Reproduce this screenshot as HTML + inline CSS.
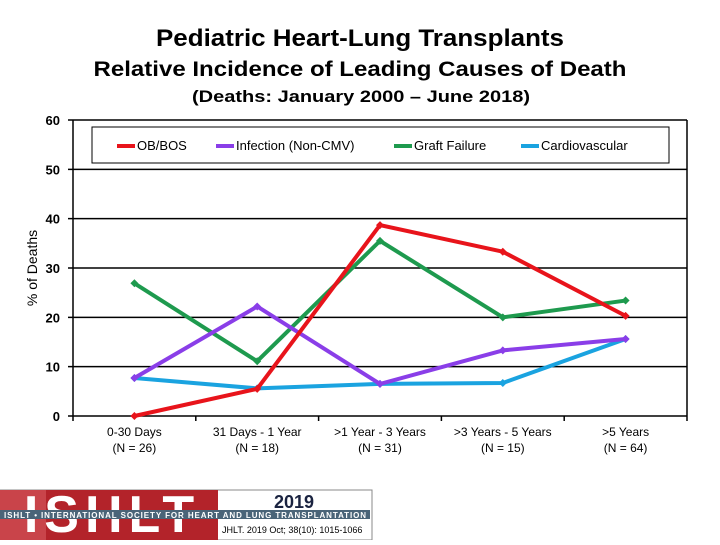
<!DOCTYPE html>
<html><head><meta charset="utf-8"><style>
body{margin:0;background:#fff;width:720px;height:540px;overflow:hidden;font-family:"Liberation Sans",Arial,sans-serif}
</style></head><body>
<svg width="720" height="540" xmlns="http://www.w3.org/2000/svg">
<text x="360" y="46" text-anchor="middle" font-size="24" font-weight="bold" textLength="408" lengthAdjust="spacingAndGlyphs">Pediatric Heart-Lung Transplants</text>
<text x="360" y="76" text-anchor="middle" font-size="21" font-weight="bold" textLength="533" lengthAdjust="spacingAndGlyphs">Relative Incidence of Leading Causes of Death</text>
<text x="361" y="102" text-anchor="middle" font-size="17" font-weight="bold" textLength="338" lengthAdjust="spacingAndGlyphs">(Deaths: January 2000 – June 2018)</text>
<g id="grid"></g>
<g id="axes"></g>
<g id="series"></g>
<rect x="92" y="127" width="577" height="36" fill="#fff" stroke="#000" stroke-width="1"/>
<g id="legend"></g>
<text transform="translate(37,268) rotate(-90)" text-anchor="middle" font-size="14">% of Deaths</text>
<g>
<rect x="0" y="490" width="372" height="50" fill="#fff" stroke="#888"/>
<rect x="0" y="490" width="218" height="50" fill="#b3232a"/>
<rect x="0" y="490" width="46" height="50" fill="#c9444a"/>
<text x="112" y="532" text-anchor="middle" font-size="52" font-weight="bold" fill="#fff" letter-spacing="6">ISHLT</text>
<rect x="0" y="510" width="370" height="9" fill="#4a6478"/>
<text x="4" y="518" font-size="8" font-weight="bold" fill="#fff" textLength="362">ISHLT • INTERNATIONAL SOCIETY FOR HEART AND LUNG TRANSPLANTATION</text>
<text x="294" y="508" text-anchor="middle" font-size="18" font-weight="bold" fill="#1a2340">2019</text>
<text x="222" y="533" font-size="9" fill="#000">JHLT. 2019 Oct; 38(10): 1015-1066</text>
</g>
</svg>
<script>
const categories=["0-30 Days","31 Days - 1 Year",">1 Year - 3 Years",">3 Years - 5 Years",">5 Years"];
const nLabels=["(N = 26)","(N = 18)","(N = 31)","(N = 15)","(N = 64)"];
const obBos=[0,5.5,38.7,33.3,20.3];
const infection=[7.7,22.2,6.5,13.3,15.6];
const graftFailure=[26.9,11.1,35.5,20.0,23.4];
const cardiovascular=[7.7,5.6,6.5,6.7,15.6];
const yTicks=[0,10,20,30,40,50,60];
const seriesNames=["OB/BOS","Infection (Non-CMV)","Graft Failure","Cardiovascular"];
const NS="http://www.w3.org/2000/svg";
const L=73,R=687,T=120,B=416;
const yS=v=>B-(B-T)*v/60;
const bw=(R-L)/categories.length;
const xS=i=>L+bw*(i+0.5);
function mk(tag,attrs,parent){const e=document.createElementNS(NS,tag);for(const k in attrs)e.setAttribute(k,attrs[k]);parent.appendChild(e);return e;}
const grid=document.getElementById('grid'),axes=document.getElementById('axes'),ser=document.getElementById('series'),leg=document.getElementById('legend');
yTicks.forEach(v=>{
 const ln=mk('line',{x1:L-5,x2:R,y1:yS(v),y2:yS(v),stroke:'#000','stroke-width':1.5},grid);
 
 
 const t=mk('text',{x:L-13,y:yS(v)+5,'text-anchor':'end','font-size':13,'font-weight':'bold'},axes);
 t.textContent=v;
 
 
});
let a=mk('line',{x1:L,x2:L,y1:T,y2:B,stroke:'#000','stroke-width':1.5},axes);


a=mk('line',{x1:R,x2:R,y1:T,y2:B,stroke:'#000','stroke-width':1.5},axes);


for(let i=0;i<=categories.length;i++){
 const tk=mk('line',{x1:L+bw*i,x2:L+bw*i,y1:B,y2:B+5,stroke:'#000','stroke-width':1.5},axes);
 
 
}
categories.forEach((c,i)=>{
 const t=mk('text',{x:xS(i),y:436,'text-anchor':'middle','font-size':12},axes);t.textContent=c;
 
 
 const t2=mk('text',{x:xS(i),y:452,'text-anchor':'middle','font-size':12},axes);t2.textContent=nLabels[i];
 
 
});
const data=[obBos,infection,graftFailure,cardiovascular];
const colors=["#e8141b","#8a3ee8","#1e9a4e","#1aa3e0"];
const keys=["ob-bos","infection","graft-failure","cardiovascular"];
[2,3,1,0].forEach(s=>{
 const pts=data[s].map((v,i)=>xS(i)+','+yS(v)).join(' ');
 const pl=mk('polyline',{points:pts,fill:'none',stroke:colors[s],'stroke-width':4,'stroke-linejoin':'round'},ser);
 
 
 data[s].forEach((v,i)=>{
  const x=xS(i),y=yS(v);
  const m=mk('polygon',{points:`${x},${y-4} ${x+4},${y} ${x},${y+4} ${x-4},${y}`,fill:colors[s]},ser);
  
  
 });
});
const lx=[117,216,394,521];
seriesNames.forEach((n,s)=>{
 const g=mk('g',{},leg);
 
 
 mk('line',{x1:lx[s],x2:lx[s]+18,y1:146,y2:146,stroke:colors[s],'stroke-width':4},g);
 const t=mk('text',{x:lx[s]+20,y:150,'font-size':13},g);t.textContent=n;
});
</script>
</body></html>
